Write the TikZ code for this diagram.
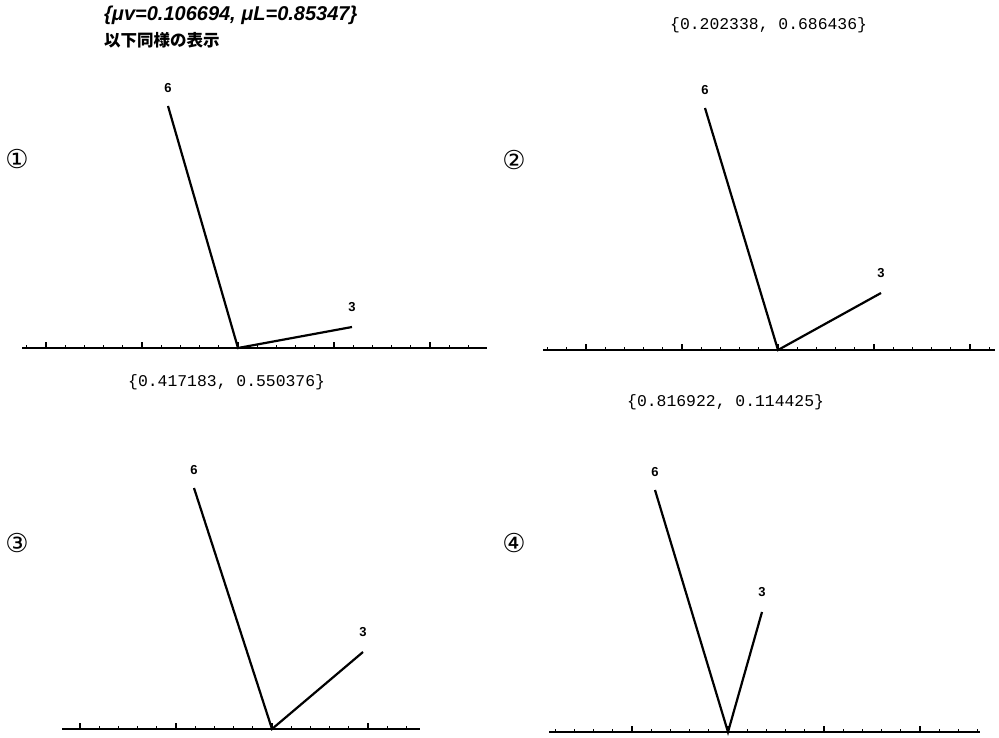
\documentclass[tikz,border=0pt]{standalone}
\usepackage{fontspec}
\setmainfont{Liberation Sans}
\newfontfamily\monof{Liberation Mono}
\newfontfamily\cjkf{Noto Sans CJK JP}
\newfontfamily\symf{DejaVu Sans}
\usetikzlibrary{calc}
\tikzset{
  axisline/.style={line width=1.8pt, black},
  rod/.style={line width=2.2pt, black},
  ticksmall/.style={line width=1.2pt, black},
  tickbig/.style={line width=1.5pt, black},
  rodlabel/.style={font=\bfseries\fontsize{13}{15}\selectfont, inner sep=0pt},
  valtext/.style={font=\monof\fontsize{16.4}{18}\selectfont, inner sep=0pt},
  circnum/.style={font=\symf\fontsize{26}{28}\selectfont, inner sep=0pt},
}
% #1 ox, #2 oy, #3 xmin, #4 xmax, #5 6x, #6 6y, #7 3x, #8 3y, #9 prefix
\newcommand{\plotpanel}[9]{%
  \coordinate (#9o) at (#1,#2);
  \coordinate (#9l) at (#3,#2);
  \coordinate (#9r) at (#4,#2);
  \draw[axisline] (#9l) -- (#9r);
  \foreach \k in {-25,...,25} {%
    \pgfmathsetmacro\tx{#1+\k*19.2}%
    \pgfmathtruncatemacro\inside{and(\tx>=#3+2,\tx<=#4-2)}%
    \pgfmathtruncatemacro\isbig{mod(abs(\k),5)==0}%
    \ifnum\inside=1
      \ifnum\isbig=1
        \draw[tickbig] (\tx,#2) -- ++(0,-6);
      \else
        \draw[ticksmall] (\tx,#2) -- ++(0,-3);
      \fi
    \fi
  }
  \coordinate (#9six) at (#5,#6);
  \coordinate (#9three) at (#7,#8);
  \draw[rod] (#9six) -- (#9o) -- (#9three);
  \node[rodlabel] (#9lsix) at ($(#9six)+(0,-18)$) {6};
  \node[rodlabel] (#9lthree) at ($(#9three)+(0,-20)$) {3};
}
\begin{document}
\begin{tikzpicture}[x=1pt,y=-1pt]
\useasboundingbox (0,0) rectangle (999,738);
\fill[white] (0,0) rectangle (999,738);

% headers
\node[anchor=west, inner sep=0pt, font=\bfseries\itshape\fontsize{20}{22}\selectfont] (hd1) at (104,15) {\{μv=0.106694, μL=0.85347\}};
\node[anchor=west, inner sep=0pt, font=\cjkf\bfseries\fontsize{16.5}{18}\selectfont] (hd1b) at (104,40) {以下同様の表示};
\node[valtext, anchor=west] (hd2) at (670,25) {\{0.202338, 0.686436\}};
\node[valtext, anchor=west] (hd3) at (128,382) {\{0.417183, 0.550376\}};
\node[valtext, anchor=west] (hd4) at (627,402) {\{0.816922, 0.114425\}};

% circled numbers
\node[circnum] (c1) at (17,159) {①};
\node[circnum] (c2) at (514,160) {②};
\node[circnum] (c3) at (17,543) {③};
\node[circnum] (c4) at (514,543) {④};

% panels
\plotpanel{238}{348}{22}{487}{168}{106}{352}{327}{pa}
\plotpanel{778}{350}{543}{995}{705}{108}{881}{293}{pb}
\plotpanel{272}{729}{62}{420}{194}{488}{363}{652}{pc}
\plotpanel{728}{732}{549}{980}{655}{490}{762}{612}{pd}
\end{tikzpicture}
\end{document}
